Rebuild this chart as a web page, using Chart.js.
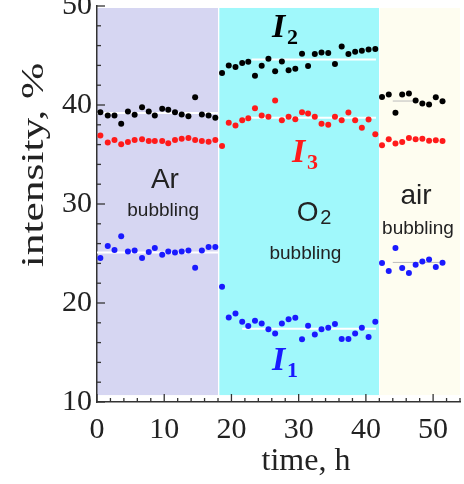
<!DOCTYPE html>
<html>
<head>
<meta charset="utf-8">
<script src="https://cdn.jsdelivr.net/npm/chart.js@4/dist/chart.umd.min.js"></script>
<style>
  html, body { margin: 0; padding: 0; background: #fff; }
  #wrap { width: 464px; height: 484px; }
</style>
</head>
<body>
<div id="wrap"><canvas id="bubbling"></canvas></div>
<script>
// measurement times, h (Ar, O2, air phases)
var hours = [0.5, 1.6, 2.6, 3.6, 4.6, 5.6, 6.7, 7.7, 8.6, 9.7, 10.6, 11.6, 12.6, 13.6, 14.6, 15.6, 16.6, 17.6,
  18.6, 19.6, 20.6, 21.6, 22.5, 23.5, 24.5, 25.5, 26.5, 27.5, 28.5, 29.5, 30.5, 31.4, 32.4, 33.4, 34.4, 35.4, 36.4, 37.4, 38.4, 39.4, 40.4, 41.4,
  42.4, 43.4, 44.4, 45.4, 46.4, 47.4, 48.4, 49.4, 50.4, 51.4];

var I2 = [39.28, 38.95, 38.95, 38.11, 39.35, 39.02, 39.78, 39.35, 38.95, 39.62, 39.52, 39.28, 39.05, 38.87, 40.78, 39.05, 38.95, 38.71,
  43.24, 44.0, 43.84, 44.24, 44.37, 42.96, 43.97, 44.67, 43.4, 44.4, 43.5, 43.67, 45.18, 43.94, 45.15, 45.31, 45.25, 44.14, 45.91, 45.15, 45.38, 45.48, 45.61, 45.65,
  40.82, 41.06, 39.22, 41.06, 41.16, 40.45, 40.15, 40.05, 40.78, 40.38];

var I3 = [36.93, 36.2, 36.46, 36.03, 36.26, 36.46, 36.53, 36.36, 36.36, 36.36, 36.13, 36.46, 36.6, 36.66, 36.46, 36.36, 36.3, 36.46,
  35.86, 38.21, 37.94, 38.47, 38.67, 39.68, 38.94, 38.81, 40.45, 38.47, 38.81, 38.57, 39.28, 39.15, 38.81, 38.11, 38.01, 38.81, 38.47, 39.25, 38.47, 37.71, 38.54, 37.04,
  35.93, 36.53, 36.1, 36.26, 36.66, 36.53, 36.6, 36.4, 36.43, 36.36];

var I1 = [24.54, 25.75, 25.35, 26.75, 25.21, 25.31, 24.54, 25.15, 25.55, 24.87, 25.21, 25.11, 25.21, 25.31, 23.57, 25.31, 25.65, 25.65,
  21.63, 18.54, 18.94, 18.11, 17.67, 18.21, 17.94, 17.34, 16.93, 17.94, 18.37, 18.51, 16.33, 17.71, 16.83, 17.34, 17.51, 17.87, 16.36, 16.36, 16.93, 17.51, 16.56, 18.11,
  24.04, 23.24, 25.55, 23.54, 23.04, 23.87, 24.2, 24.4, 23.64, 24.07];

// bubbling phases
var phaseStart = [0, 18.2, 42.1];
var phaseEnd = [18.0, 41.95, 54];

// average levels: [from, to, level]
var meanLines = [
  [0, 18.0, 39.2], [0, 18.0, 25.1],
  [23.0, 41.5, 44.6], [22.0, 41.5, 38.7], [21.6, 41.5, 17.4],
  [44.0, 47.0, 40.4], [44.0, 51.0, 24.1]
];

function pts(ys) {
  return hours.map(function (h, i) { return { x: h, y: ys[i] }; });
}

var datasets = [
  { label: 'I2', data: pts(I2), backgroundColor: '#000', order: 1 },
  { label: 'I3', data: pts(I3), backgroundColor: '#ff1a1a', order: 1 },
  { label: 'I1', data: pts(I1), backgroundColor: '#1a1aff', order: 1 }
];
meanLines.forEach(function (m) {
  datasets.push({
    type: 'line', data: [{ x: m[0], y: m[2] }, { x: m[1], y: m[2] }],
    borderColor: m[0] > 42 ? '#bbb' : '#fff', borderWidth: m[0] > 42 ? 1 : 2,
    pointRadius: 0, order: 2
  });
});

var phaseColors = ['#d6d6f2', '#a0f8fb', '#fefdf0'];

var phases = {
  id: 'phases',
  beforeDraw: function (chart) {
    var ctx = chart.ctx, x = chart.scales.x, y = chart.scales.y;
    ctx.save();
    for (var i = 0; i < phaseStart.length; i++) {
      var x0 = x.getPixelForValue(phaseStart[i]);
      var x1 = x.getPixelForValue(phaseEnd[i]);
      var y0 = y.getPixelForValue(49.8);
      var y1 = y.getPixelForValue(10.7);
      ctx.fillStyle = phaseColors[i];
      ctx.fillRect(x0, y0, x1 - x0, y1 - y0);
    }
    ctx.restore();
  },
  afterDraw: function (chart) {
    var ctx = chart.ctx, x = chart.scales.x, y = chart.scales.y, a = chart.chartArea;
    ctx.save();
    // inward ticks
    ctx.strokeStyle = '#333';
    ctx.lineWidth = 1.3;
    for (var v = 10; v <= 50; v += 2) {
      var py = y.getPixelForValue(v);
      var len = v % 10 === 0 ? 8 : 4;
      ctx.beginPath(); ctx.moveTo(a.left, py); ctx.lineTo(a.left + len, py); ctx.stroke();
    }
    for (var t = 0; t <= 54; t += 2) {
      var px = x.getPixelForValue(t);
      var l2 = t % 10 === 0 ? 8 : 4;
      ctx.beginPath(); ctx.moveTo(px, a.bottom); ctx.lineTo(px, a.bottom - l2); ctx.stroke();
    }

    // axis titles
    ctx.fillStyle = '#222';
    ctx.font = '31px "Liberation Serif"';
    ctx.textAlign = 'center';
    ctx.textBaseline = 'middle';
    ctx.save();
    ctx.translate(35, 165);
    ctx.rotate(-Math.PI / 2);
    ctx.scale(1.4, 1);
    ctx.fillText('intensity, %', 0, 0);
    ctx.restore();
    ctx.font = '32px "Liberation Serif"';
    ctx.fillText('time, h', 306, 462);

    // series names
    function name(letter, sub, t, v, color) {
      var px = x.getPixelForValue(t), py = y.getPixelForValue(v);
      ctx.fillStyle = color;
      ctx.textAlign = 'left';
      ctx.textBaseline = 'alphabetic';
      ctx.font = 'italic bold 34px "Liberation Serif"';
      ctx.fillText(letter, px, py);
      ctx.font = 'bold 22px "Liberation Serif"';
      ctx.fillText(sub, px + 15, py + 7);
    }
    name('I', '2', 26.05, 46.87, '#000');
    name('I', '3', 29.0, 34.24, '#ff1a1a');
    name('I', '1', 26.05, 13.23, '#1a1aff');

    // phase captions
    function caption(text, t, v, size) {
      ctx.fillStyle = '#222';
      ctx.textAlign = 'center';
      ctx.textBaseline = 'middle';
      ctx.font = size + 'px "Liberation Sans"';
      ctx.fillText(text, x.getPixelForValue(t), y.getPixelForValue(v));
    }
    caption('Ar', 10.1, 32.4, 28);
    caption('bubbling', 9.85, 29.3, 19);
    caption('air', 47.45, 30.8, 28);
    caption('bubbling', 47.75, 27.5, 19);
    caption('bubbling', 31.0, 24.95, 19);
    // O with subscript 2
    var ox = x.getPixelForValue(29.7), oy = y.getPixelForValue(28.3);
    ctx.textAlign = 'left';
    ctx.textBaseline = 'alphabetic';
    ctx.font = '28px "Liberation Sans"';
    ctx.fillText('O', ox, oy);
    ctx.font = '20px "Liberation Sans"';
    ctx.fillText('2', ox + ctx.measureText('O').width + 8, oy + 3);
    ctx.restore();
  }
};

new Chart('bubbling', {
  type: 'scatter',
  data: { datasets: datasets },
  plugins: [phases],
  options: {
    responsive: true,
    maintainAspectRatio: false,
    animation: false,
    layout: { padding: { top: 6, right: 4, left: 0, bottom: 0 } },
    plugins: { legend: { display: false }, tooltip: { enabled: false } },
    elements: { point: { radius: 3, borderWidth: 0 } },
    scales: {
      x: {
        type: 'linear', min: 0, max: 54,
        grid: { display: false, drawTicks: false },
        border: { display: true, color: '#333', width: 1.5 },
        ticks: { stepSize: 10, includeBounds: false, padding: 10, color: '#222',
          font: { family: 'Liberation Serif', size: 30 }, maxRotation: 0 },
        afterFit: function (s) { s.height = 82; s.paddingLeft = 0; s.paddingRight = 0; }
      },
      y: {
        min: 10, max: 50,
        grid: { display: false, drawTicks: false },
        border: { display: true, color: '#333', width: 1.5 },
        ticks: { stepSize: 10, padding: 5, color: '#222',
          font: { family: 'Liberation Serif', size: 30 } },
        afterFit: function (s) { s.width = 97; s.paddingTop = 0; s.paddingBottom = 0; }
      }
    }
  }
});
</script>
</body>
</html>
